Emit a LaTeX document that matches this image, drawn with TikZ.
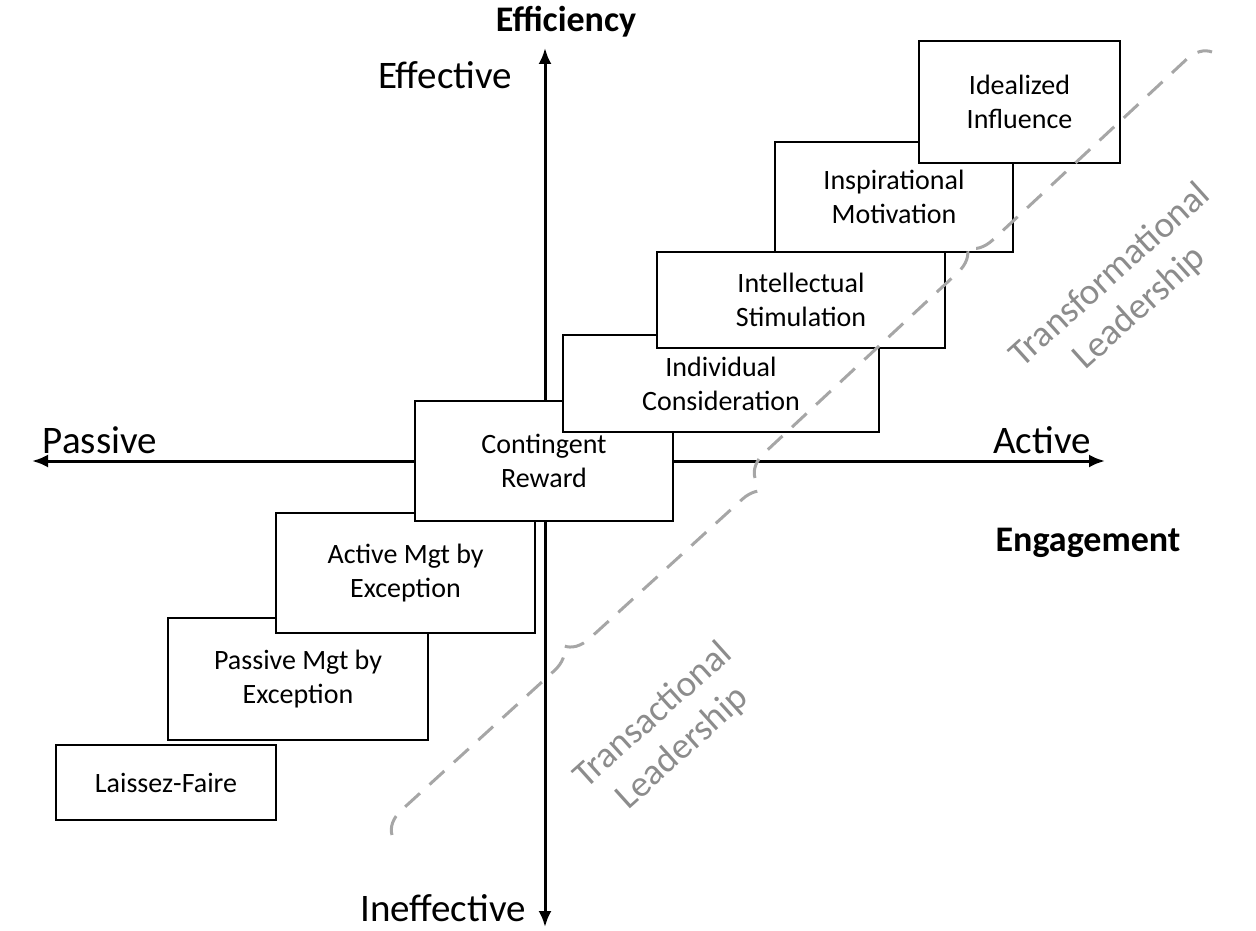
\documentclass[tikz,border=0pt]{standalone}
\usepackage{fontspec}
\setmainfont{Carlito}
\usetikzlibrary{arrows.meta,decorations.pathreplacing}
\begin{document}
\begin{tikzpicture}[x=1pt,y=-1pt,
  stage/.style={draw, line width=2pt, fill=white, align=center, inner sep=0pt,
    font=\fontsize{28}{34}\selectfont},
  axis/.style={line width=3pt, -{Latex[length=16pt,width=13pt]}},
  lbl/.style={font=\fontsize{39}{44}\selectfont},
  grp/.style={draw=gray!70, line width=3pt, dash pattern=on 20pt off 13pt,
    decorate, decoration={brace, amplitude=24pt}},
  grptext/.style={text=gray!90, align=center, font=\fontsize{37}{44}\selectfont}]
\useasboundingbox (0,0) rectangle (1256,931);
% axes
\coordinate (o) at (545,461);
\coordinate (top) at (545,48);
\coordinate (bot) at (545,927);
\coordinate (lft) at (32,461);
\coordinate (rgt) at (1105,461);
\draw[axis] (o) -- (top);
\draw[axis] (o) -- (bot);
\draw[axis] (o) -- (lft);
\draw[axis] (o) -- (rgt);
\node[lbl, font=\fontsize{36}{40}\selectfont\bfseries] (eff) at (566,22) {Efficiency};
\node[lbl] (effective) at (445,75) {Effective};
\node[lbl] (ineffective) at (443,908) {Ineffective};
\node[lbl] (passive) at (100,440) {Passive};
\node[lbl] (active) at (1042,440) {Active};
\node[lbl, font=\fontsize{36}{40}\selectfont\bfseries] (eng) at (1088,543) {Engagement};
% stages (x1,y1,x2,y2/name/text)
\foreach \xa/\ya/\xb/\yb/\nm/\txt in {
  56/745/276/820/lf/Laissez-Faire,
  168/618/428/740/pm/Passive Mgt by\\Exception,
  276/513/535/633/am/Active Mgt by\\Exception,
  415/401/673/521/cr/Contingent\\Reward,
  563/335/879/432/ic/Individual\\Consideration,
  657/252/945/348/is/Intellectual\\Stimulation,
  775/142/1013/252/im/Inspirational\\Motivation,
  919/41/1120/163/ii/Idealized\\Influence}
{
  \node[stage, minimum width={\xb-\xa}, minimum height={\yb-\ya}]
    (\nm) at ({(\xa+\xb)/2},{(\ya+\yb)/2}) {\txt};
}
% groups
\coordinate (tra1) at (392,835);
\coordinate (tra2) at (768,492);
\coordinate (trf1) at (755,478);
\coordinate (trf2) at (1212,52);
\draw[grp] (tra1) -- (tra2);
\draw[grp] (trf1) -- (trf2);
\node[grptext, rotate=42] (tratext) at (668,732) {Transactional\\Leadership};
\node[grptext, rotate=42] (trftext) at (1125,292) {Transformational\\Leadership};
\end{tikzpicture}
\end{document}
